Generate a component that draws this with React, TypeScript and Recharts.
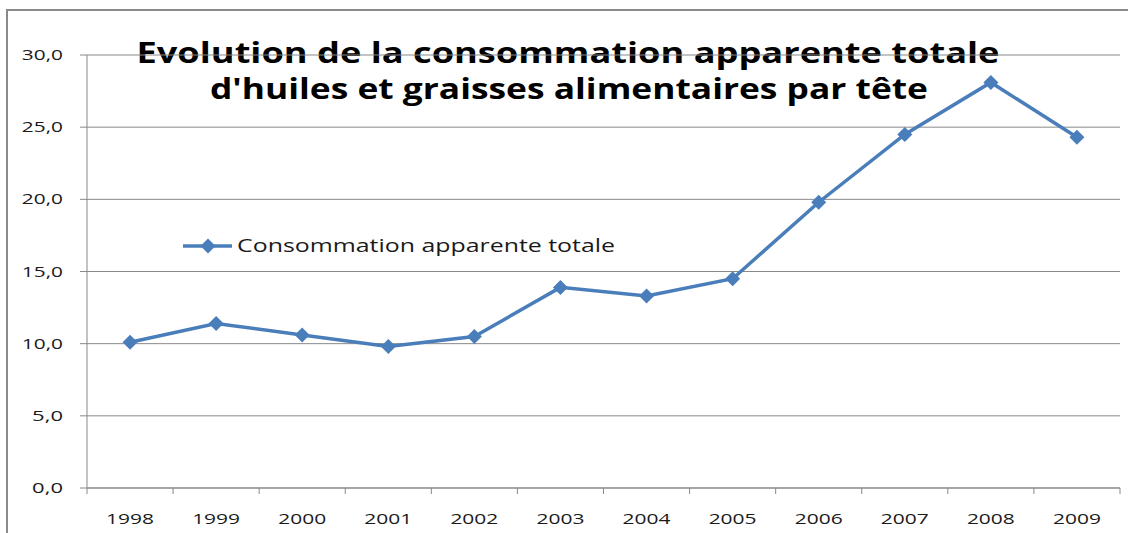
import { LineChart, Line, XAxis, YAxis, CartesianGrid, Legend } from "recharts";

const years = ["1998", "1999", "2000", "2001", "2002", "2003", "2004", "2005", "2006", "2007", "2008", "2009"];
const consommation = [10.1, 11.4, 10.6, 9.8, 10.5, 13.9, 13.3, 14.5, 19.8, 24.5, 28.1, 24.3];
const yTicks = [0, 5, 10, 15, 20, 25, 30];
const seriesName = "Consommation apparente totale";
const titleLines = ["Evolution de la consommation apparente  totale", "d'huiles et graisses alimentaires par tête"];

const data = years.map((year, i) => ({ year, value: consommation[i] }));

const W = 1128;
const H = 533;
const MARGIN = { top: 55, right: 8, bottom: 15, left: 0 };
const Y_WIDTH = 87;
const X_HEIGHT = 30;
const PLOT_W = W - MARGIN.left - MARGIN.right - Y_WIDTH;
const BAND = PLOT_W / years.length;
const X_TICK_MARGIN = 20;

const LINE_COLOR = "#4a7ebb";
const AXIS_COLOR = "#898989";
const FONT = "'Open Sans', 'DejaVu Sans', sans-serif";

const fmt = (v: number) => v.toFixed(1).replace(".", ",");

function Diamond(props: any) {
  const { cx, cy } = props;
  if (cx == null || cy == null) return null;
  const r = 7.5;
  return (
    <polygon
      points={`${cx},${cy - r} ${cx + r},${cy} ${cx},${cy + r} ${cx - r},${cy}`}
      fill={LINE_COLOR}
    />
  );
}

function XTick(props: any) {
  const { x, y, payload, index } = props;
  const axisY = y - X_TICK_MARGIN;
  return (
    <g>
      <line x1={x - BAND / 2} x2={x - BAND / 2} y1={axisY} y2={axisY + 6} stroke={AXIS_COLOR} />
      {index === years.length - 1 && (
        <line x1={x + BAND / 2} x2={x + BAND / 2} y1={axisY} y2={axisY + 6} stroke={AXIS_COLOR} />
      )}
      <text
        x={x}
        y={axisY + 36}
        textAnchor="middle"
        fontSize={15}
        fontFamily={FONT}
        fill="#1a1a1a"
        textLength={48}
        lengthAdjust="spacingAndGlyphs"
      >
        {payload.value}
      </text>
    </g>
  );
}

function YTick(props: any) {
  const { x, y, payload } = props;
  const label = fmt(payload.value);
  return (
    <text
      x={x}
      y={y + 5}
      textAnchor="end"
      fontSize={15}
      fontFamily={FONT}
      fill="#1a1a1a"
      textLength={label.length * 10.3}
      lengthAdjust="spacingAndGlyphs"
    >
      {label}
    </text>
  );
}

function LegendBox() {
  return (
    <svg width={460} height={30}>
      <line x1={3} x2={52} y1={14} y2={14} stroke={LINE_COLOR} strokeWidth={3.5} />
      <Diamond cx={28} cy={14} />
      <text
        x={57}
        y={20}
        fontSize={19}
        fontFamily={FONT}
        fill="#1a1a1a"
        textLength={378}
        lengthAdjust="spacingAndGlyphs"
      >
        {seriesName}
      </text>
    </svg>
  );
}

export default function App() {
  return (
    <div style={{ position: "absolute", left: 0, top: 0, width: W, height: H, overflow: "hidden", background: "#fff" }}>
      <div
        style={{
          position: "absolute",
          left: 6,
          top: 9,
          width: 1300,
          height: 700,
          borderLeft: "2px solid #8a8a8a",
          borderTop: "2px solid #8a8a8a",
        }}
      />
      <svg width={W} height={H} style={{ position: "absolute", left: 0, top: 0 }}>
        <text
          x={568}
          y={63}
          textAnchor="middle"
          fontSize={28}
          fontWeight={700}
          fontFamily={FONT}
          fill="#000"
          textLength={863}
          lengthAdjust="spacingAndGlyphs"
        >
          {titleLines[0]}
        </text>
        <text
          x={569}
          y={99}
          textAnchor="middle"
          fontSize={28}
          fontWeight={700}
          fontFamily={FONT}
          fill="#000"
          textLength={718}
          lengthAdjust="spacingAndGlyphs"
        >
          {titleLines[1]}
        </text>
      </svg>
      <div style={{ position: "absolute", left: 0, top: 0 }}>
        <LineChart width={W} height={H} data={data} margin={MARGIN}>
          <CartesianGrid vertical={false} stroke={AXIS_COLOR} />
          <XAxis
            dataKey="year"
            height={X_HEIGHT}
            padding={{ left: BAND / 2, right: BAND / 2 }}
            tickLine={false}
            tickSize={0}
            tickMargin={X_TICK_MARGIN}
            axisLine={{ stroke: AXIS_COLOR }}
            tick={<XTick />}
            interval={0}
          />
          <YAxis
            width={Y_WIDTH}
            domain={[0, 30]}
            ticks={yTicks}
            tickSize={7}
            tickMargin={17}
            tickLine={{ stroke: AXIS_COLOR }}
            axisLine={{ stroke: AXIS_COLOR }}
            tick={<YTick />}
          />
          <Legend
            layout="horizontal"
            verticalAlign="middle"
            align="center"
            content={<LegendBox />}
            wrapperStyle={{ position: "absolute", left: 180, top: 232, width: 460, height: 30 }}
          />
          <Line
            type="linear"
            dataKey="value"
            name={seriesName}
            stroke={LINE_COLOR}
            strokeWidth={3.5}
            dot={<Diamond />}
            activeDot={false}
            isAnimationActive={false}
          />
        </LineChart>
      </div>
    </div>
  );
}
